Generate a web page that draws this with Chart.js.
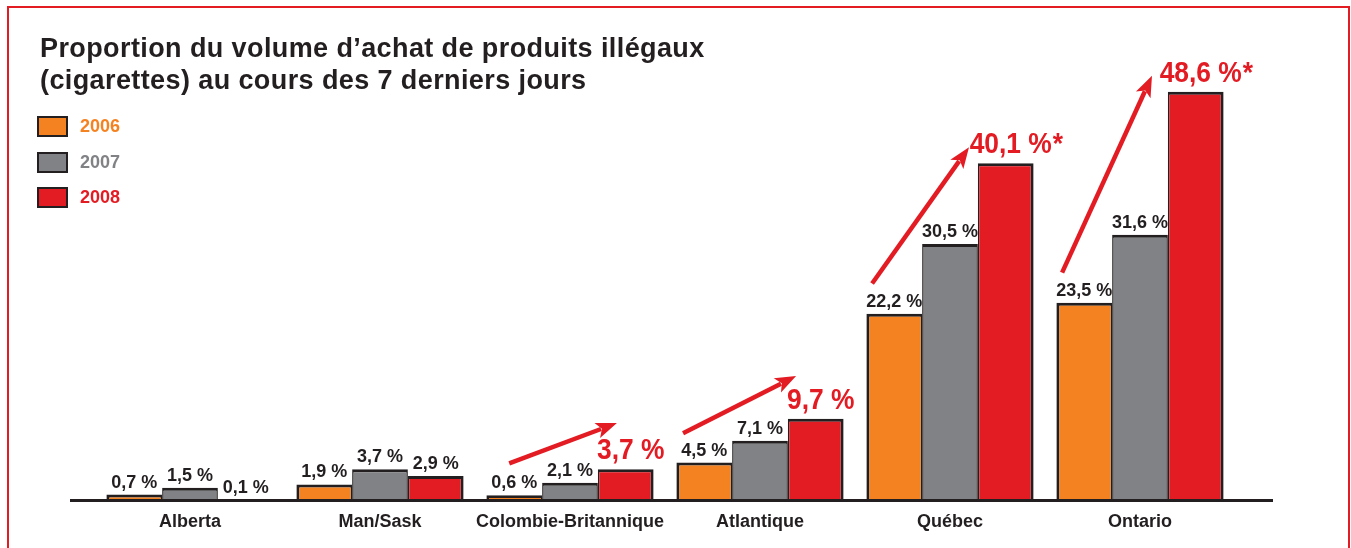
<!DOCTYPE html>
<html><head><meta charset="utf-8">
<script src="https://cdn.jsdelivr.net/npm/chart.js@4/dist/chart.umd.min.js"></script>
<style>
html,body{margin:0;padding:0;background:#fff;}
#wrap{position:relative;width:1351px;height:548px;overflow:hidden;background:#fff;}
#frame{position:absolute;left:7px;top:6px;width:1343px;height:620px;border:2.5px solid #e31b23;border-bottom:none;box-sizing:border-box;}
#title{position:absolute;left:40px;top:32px;font:bold 27px "Liberation Sans",Arial,sans-serif;letter-spacing:0.4px;line-height:32px;color:#231f20;white-space:nowrap;}
.lg{position:absolute;left:37px;display:flex;align-items:center;height:21px;}
.lg .bx{width:31px;height:21px;box-sizing:border-box;border:2.5px solid #231f20;}
.lg .tx{margin-left:12px;font:bold 18px "Liberation Sans",Arial,sans-serif;}
canvas{position:absolute;left:0;top:0;}
</style></head>
<body><div id="wrap">
<canvas id="c" width="1351" height="548"></canvas>
<div id="frame"></div>
<div id="title">Proportion du volume d’achat de produits illégaux<br>(cigarettes) au cours des 7 derniers jours</div>
<div id="legend"></div>
</div>
<script>
const categories = ['Alberta','Man/Sask','Colombie-Britannique','Atlantique','Québec','Ontario'];
const years = ['2006','2007','2008'];
const values2006 = [0.7, 1.9, 0.6, 4.5, 22.2, 23.5];
const values2007 = [1.5, 3.7, 2.1, 7.1, 30.5, 31.6];
const values2008 = [0.1, 2.9, 3.7, 9.7, 40.1, 48.6];
const highlight2008 = [false, false, true, true, true, true];
const asterisk2008 = [false, false, false, false, true, true];

const colors = ['#f58220', '#808285', '#e31b23'];
const edge = '#231f20';

// arrow annotations (category index, offsets in category widths, values)
const arrows = [
  {cat:2, x0:-0.32, y0:4.4, x1:0.247, y1:9.2},
  {cat:3, x0:-0.405, y0:8.0, x1:0.19, y1:14.8},
  {cat:4, x0:-0.41, y0:25.8, x1:0.10, y1:42.0},
  {cat:5, x0:-0.41, y0:27.1, x1:0.063, y1:50.5}
];

const seriesValues = [values2006, values2007, values2008];
const borders = [
  {top:3, left:3, right:1.5, bottom:0},
  {top:3, left:1.5, right:1.5, bottom:0},
  {top:3, left:1.5, right:3, bottom:0}
];

// HTML legend
const lg = document.getElementById('legend');
years.forEach((y, i) => {
  const d = document.createElement('div');
  d.className = 'lg';
  d.style.top = (116 + i * 35.5) + 'px';
  d.innerHTML = '<div class="bx" style="background:' + colors[i] + '"></div><div class="tx" style="color:' + colors[i] + '">' + y + '</div>';
  lg.appendChild(d);
});

const fmt = v => v.toFixed(1).replace('.', ',') + ' %';

const overlay = {
  id: 'overlay',
  afterDatasetsDraw(chart) {
    const ctx = chart.ctx;
    const xs = chart.scales.x, ys = chart.scales.y;
    // baseline
    ctx.save();
    ctx.strokeStyle = edge;
    ctx.lineWidth = 3;
    ctx.beginPath();
    ctx.moveTo(70, ys.getPixelForValue(0));
    ctx.lineTo(1273, ys.getPixelForValue(0));
    ctx.stroke();
    // labels
    ctx.textBaseline = 'alphabetic';
    chart.data.datasets.forEach((ds, di) => {
      const meta = chart.getDatasetMeta(di);
      meta.data.forEach((bar, i) => {
        const v = ds.data[i];
        if (di === 2 && highlight2008[i]) {
          const t = fmt(v);
          ctx.save();
          ctx.font = 'bold 30px "Liberation Sans", Arial, sans-serif';
          ctx.fillStyle = '#e31b23';
          ctx.translate(bar.x + 5, bar.y - 10);
          ctx.scale(0.88, 1);
          const w = ctx.measureText(t).width;
          ctx.textAlign = 'left';
          ctx.fillText(t, -w / 2, 0);
          if (asterisk2008[i]) ctx.fillText('*', w / 2 + 1, 0);
          ctx.restore();
        } else {
          ctx.font = 'bold 18px "Liberation Sans", Arial, sans-serif';
          ctx.fillStyle = edge;
          ctx.textAlign = 'center';
          ctx.fillText(fmt(v), bar.x, bar.y - 7);
        }
      });
    });
    // arrows
    const cw = xs.width / categories.length;
    ctx.strokeStyle = '#e31b23';
    ctx.fillStyle = '#e31b23';
    arrows.forEach(a => {
      const cx = xs.getPixelForValue(a.cat);
      const x0 = cx + a.x0 * cw, y0 = ys.getPixelForValue(a.y0);
      const x1 = cx + a.x1 * cw, y1 = ys.getPixelForValue(a.y1);
      const ang = Math.atan2(y1 - y0, x1 - x0);
      const hl = 21, hw = 8;
      const bx = x1 - hl * Math.cos(ang), byy = y1 - hl * Math.sin(ang);
      ctx.lineWidth = 4.5;
      ctx.beginPath();
      ctx.moveTo(x0, y0);
      ctx.lineTo(x1 - (hl - 4) * Math.cos(ang), y1 - (hl - 4) * Math.sin(ang));
      ctx.stroke();
      const nx = -Math.sin(ang), ny = Math.cos(ang);
      const nbx = x1 - (hl - 5) * Math.cos(ang), nby = y1 - (hl - 5) * Math.sin(ang);
      ctx.beginPath();
      ctx.moveTo(x1, y1);
      ctx.lineTo(bx + nx * hw, byy + ny * hw);
      ctx.lineTo(nbx, nby);
      ctx.lineTo(bx - nx * hw, byy - ny * hw);
      ctx.closePath();
      ctx.fill();
    });
    ctx.restore();
  }
};

new Chart(document.getElementById('c'), {
  type: 'bar',
  data: {
    labels: categories,
    datasets: years.map((y, i) => ({
      label: y,
      data: seriesValues[i],
      backgroundColor: colors[i],
      borderColor: edge,
      borderWidth: borders[i],
      borderSkipped: false,
      barPercentage: 1,
      categoryPercentage: 0.88
    }))
  },
  options: {
    responsive: false,
    animation: false,
    layout: { padding: { left: 95, right: 116, top: 38, bottom: 4 } },
    plugins: { legend: { display: false }, title: { display: false }, tooltip: { enabled: false } },
    scales: {
      y: { display: false, min: 0, max: 55 },
      x: {
        grid: { display: false, drawTicks: false },
        border: { display: false },
        ticks: { color: edge, padding: 11, maxRotation: 0, minRotation: 0, autoSkip: false, font: { family: '"Liberation Sans", Arial, sans-serif', weight: 'bold', size: 18 } }
      }
    }
  },
  plugins: [overlay]
});
</script>
</body></html>
